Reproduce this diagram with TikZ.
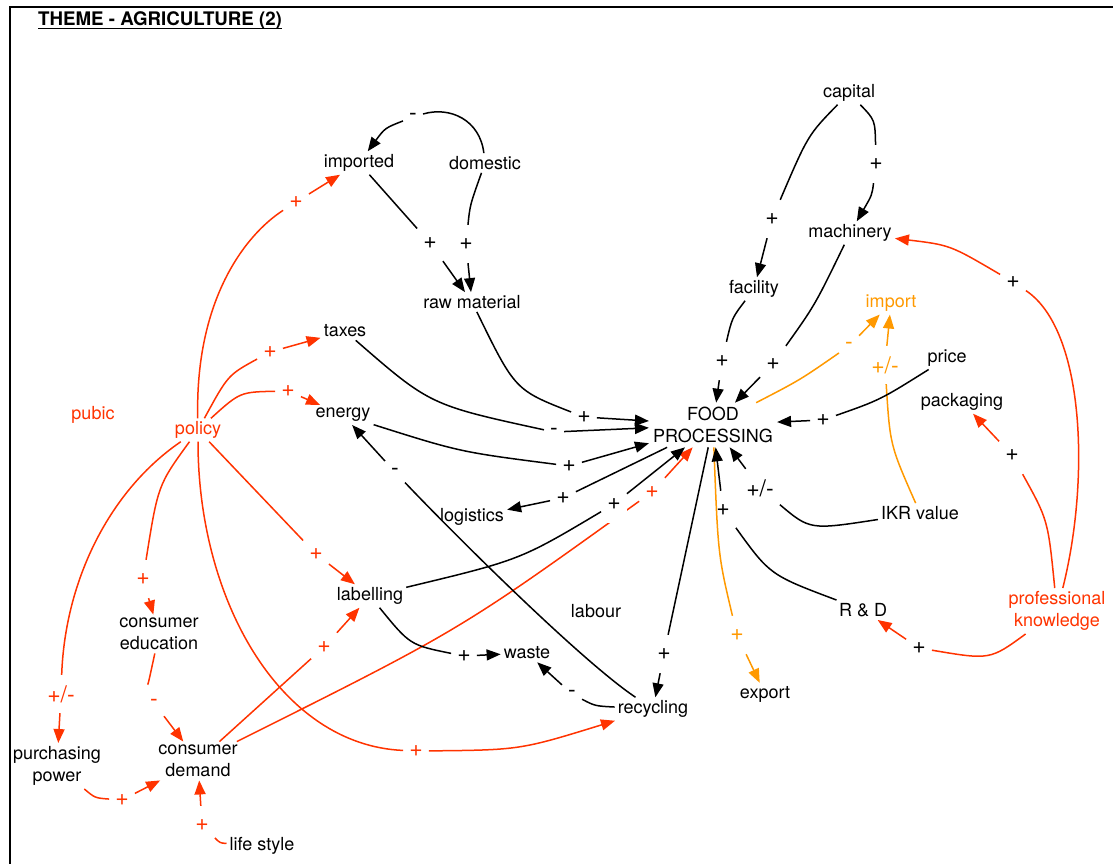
\documentclass[tikz,border=0pt]{standalone}
\usepackage{fontspec}
\setmainfont{TeX Gyre Heros}
\usetikzlibrary{arrows.meta}
\definecolor{cldred}{RGB}{255,51,0}
\definecolor{cldorange}{RGB}{255,153,0}
\begin{document}
\begin{tikzpicture}[x=1pt,y=-1pt,
  every node/.style={font=\fontsize{18}{22.5}\selectfont},
  var/.style={inner sep=3pt, align=center},
  rvar/.style={var, text=cldred},
  ovar/.style={var, text=cldorange},
  sign/.style={rectangle, inner xsep=6pt, inner ysep=0pt, minimum height=38pt, fill=white,
    font=\fontsize{23}{24}\selectfont},
  rsign/.style={sign, text=cldred},
  osign/.style={sign, text=cldorange},
  link/.style={line width=1.5pt, -{Triangle[length=14pt,width=11pt]}},
  blink/.style={link, draw=black},
  rlink/.style={link, draw=cldred},
  olink/.style={link, draw=cldorange}]

\useasboundingbox (0,0) rectangle (1113,864);

% frame and title
\draw[line width=1.8pt] (10,864) -- (10,7) -- (1113,7);
\node[anchor=base west, inner sep=0pt, font=\fontsize{18.7}{22}\selectfont\bfseries] (title) at (38,26) {THEME - AGRICULTURE (2)};
\draw[line width=1.3pt] ([yshift=-2.5pt]title.base west) -- ([yshift=-2.5pt]title.base east);

% polarity signs
\node[sign]  (s1)  at (413,117) {-};
\node[sign]  (s2)  at (430,243) {+};
\node[sign]  (s3)  at (466,244) {+};
\node[sign]  (s4)  at (876,164) {+};
\node[sign]  (s5)  at (772,219) {+};
\node[sign]  (s6)  at (722,361) {+};
\node[sign]  (s7)  at (773,364) {+};
\node[sign]  (s8)  at (584,417) {+};
\node[sign]  (s9)  at (554,432) {-};
\node[sign]  (s10) at (569,466) {+};
\node[sign]  (s11) at (563,498) {+};
\node[rsign] (s13) at (652,492) {+};
\node[sign]  (s14) at (664,654) {+};
\node[osign] (s15) at (737,635) {+};
\node[osign] (s16) at (849,346) {-};
\node[osign] (s17) at (885,365) {+/-};
\node[sign]  (s18) at (823,420) {+};
\node[sign]  (s19) at (760,488) {+/-};
\node[sign]  (s20) at (723,510) {+};
\node[sign]  (s21) at (919,648) {+};
\node[sign]  (s22) at (1012,455) {+};
\node[sign]  (s23) at (1013,282) {+};
\node[sign]  (s24) at (395,472) {-};
\node[sign]  (s25) at (572,694) {-};
\node[sign]  (s26) at (464,656) {+};
\node[rsign] (s27) at (296,202) {+};
\node[rsign] (s28) at (270,352) {+};
\node[rsign] (s29) at (288,391) {+};
\node[rsign] (s30) at (316,554) {+};
\node[rsign] (s31) at (143,579) {+};
\node[rsign] (s32) at (61,694) {+/-};
\node[rsign] (s33) at (416,751) {+};
\node[rsign] (s34) at (154,703) {-};
\node[rsign] (s35) at (122,800) {+};
\node[rsign] (s36) at (202,825) {+};
\node[rsign] (s37) at (324,647) {+};

% variables
\node[var]  (imp)  at (359,163) {imported};
\node[var]  (dom)  at (485,163) {domestic};
\node[var]  (cap)  at (849,93)  {capital};
\node[var]  (mach) at (850,233) {machinery};
\node[var]  (fac)  at (754,289) {facility};
\node[var]  (raw)  at (472,302) {raw material};
\node[ovar] (impo) at (891,303) {import};
\node[var]  (tax)  at (345,331) {taxes};
\node[var]  (pri)  at (947,358) {price};
\node[rvar] (pub)  at (93,415)  {pubic};
\node[rvar] (pol)  at (198,430) {policy};
\node[var]  (ene)  at (343,415) {energy};
\node[var, inner sep=4pt] (food) at (713,425) {FOOD\\PROCESSING};
\node[var]  (pack) at (962,402) {packaging};
\node[var]  (log)  at (472,517) {logistics};
\node[var]  (ikr)  at (920,513) {IKR value};
\node[var]  (lab)  at (370,596) {labelling};
\node[var]  (lbr)  at (596,611) {labour};
\node[var]  (rd)   at (863,610) {R \& D};
\node[rvar] (pk)   at (1057,611) {professional\\knowledge};
\node[var]  (ced)  at (159,634) {consumer\\education};
\node[var]  (wst)  at (527,653) {waste};
\node[var]  (rec)  at (653,709) {recycling};
\node[var]  (exp)  at (765,694) {export};
\node[var]  (pp)   at (57,766)  {purchasing\\power};
\node[var]  (cd)   at (198,761) {consumer\\demand};
\node[var]  (ls)   at (262,846) {life style};

% consumer demand to food processing (passes behind the sign of labelling)
\draw[rlink] (cd) .. controls (460,630) .. (s13) -- (food);
\node[sign] (s12) at (614,504) {+};

% supply side
\draw[blink] (dom) .. controls (480,120) and (450,106) .. (s1) .. controls (385,128) .. (imp);
\draw[blink] (imp) -- (s2) -- (raw);
\draw[blink] (dom) .. controls (470,205) .. (s3) -- (raw);
\draw[blink] (cap) .. controls (875,120) .. (s4) .. controls (872,195) .. (mach);
\draw[blink] (cap) .. controls (808,135) .. (s5) -- (fac);
\draw[blink] (fac) .. controls (732,318) .. (s6) -- (food);
\draw[blink] (mach) .. controls (815,305) .. (s7) -- (food);
\draw[blink] (raw) .. controls (515,390) .. (s8) -- (food);
\draw[blink] (tax) .. controls (430,405) .. (s9) -- (food);
\draw[blink] (ene) .. controls (460,452) .. (s10) -- (food);
\draw[blink] (food) -- (s11) -- (log);
\draw[blink] (lab) .. controls (520,560) .. (s12) -- (food);
\draw[blink] (food) -- (s14) -- (rec);
\draw[olink] (food) .. controls (718,555) .. (s15) -- (exp);
\draw[olink] (food) .. controls (800,380) .. (s16) -- (impo);
\draw[olink] (ikr) .. controls (890,445) .. (s17) -- (impo);
\draw[blink] (pri) .. controls (880,400) .. (s18) -- (food);
\draw[blink] (ikr) .. controls (810,530) .. (s19) -- (food);
\draw[blink] (rd) .. controls (770,575) .. (s20) -- (food);

% professional knowledge
\draw[rlink] (pk) .. controls (990,660) .. (s21) -- (rd);
\draw[rlink] (pk) .. controls (1048,520) .. (s22) -- (pack);
\draw[rlink] (pk) .. controls (1090,480) and (1085,330) .. (s23) .. controls (950,245) .. (mach);

% recycling and waste
\draw[blink] (rec) .. controls (580,660) and (450,530) .. (s24) -- (ene);
\draw[blink] (rec) .. controls (595,706) .. (s25) -- (wst);
\draw[blink] (lab) .. controls (410,645) .. (s26) -- (wst);

% policy
\draw[rlink] (pol) .. controls (195,300) and (245,235) .. (s27) -- (imp);
\draw[rlink] (pol) .. controls (228,375) .. (s28) -- (tax);
\draw[rlink] (pol) .. controls (240,392) .. (s29) -- (ene);
\draw[rlink] (pol) -- (s30) -- (lab);
\draw[rlink] (pol) .. controls (158,485) .. (s31) -- (ced);
\draw[rlink] (pol) .. controls (110,490) and (65,580) .. (s32) -- (pp);
\draw[rlink] (pol) .. controls (198,600) and (280,745) .. (s33) .. controls (520,750) .. (rec);

% consumers
\draw[rlink] (ced) .. controls (148,685) .. (s34) -- (cd);
\draw[rlink] (pp) .. controls (95,798) .. (s35) -- (cd);
\draw[rlink] (ls) .. controls (220,843) .. (s36) -- (cd);
\draw[rlink] (cd) -- (s37) -- (lab);
\end{tikzpicture}
\end{document}
